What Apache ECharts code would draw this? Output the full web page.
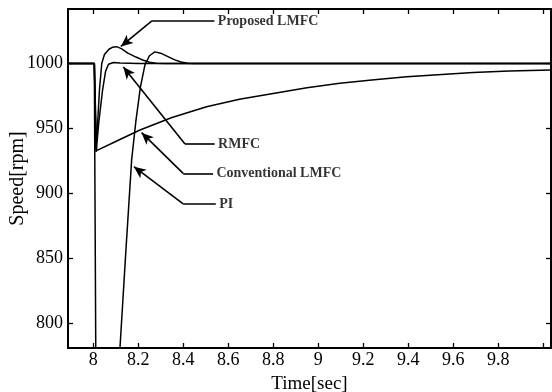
<!DOCTYPE html>
<html>
<head>
<meta charset="utf-8">
<script src="https://cdn.jsdelivr.net/npm/echarts@6/dist/echarts.min.js"></script>
<style>
html, body { margin: 0; padding: 0; background: #fff; }
#main { width: 552px; height: 392px; }
</style>
</head>
<body>
<div id="main"></div>
<script>
// axis ticks
var xTicks = [8, 8.2, 8.4, 8.6, 8.8, 9, 9.2, 9.4, 9.6, 9.8, 10];
var xTickLabels = ['8', '8.2', '8.4', '8.6', '8.8', '9', '9.2', '9.4', '9.6', '9.8', ''];
var yTicks = [800, 850, 900, 950, 1000];
var yTickLabels = ['800', '850', '900', '950', '1000'];

// Proposed LMFC
var proposedTime = [7.888, 8.005, 8.012, 8.02, 8.028, 8.038, 8.05, 8.07, 8.085, 8.104, 8.125, 8.154, 8.19, 8.22, 8.25, 8.28, 8.32, 10.035];
var proposedSpeed = [1000, 1000, 934, 955, 980, 1000, 1007, 1011, 1012.5, 1013, 1011.5, 1008, 1005, 1002.7, 1001, 1000.2, 1000, 1000];

// RMFC
var rmfcTime = [7.888, 8.005, 8.013, 8.025, 8.042, 8.055, 8.068, 8.09, 8.12, 8.2, 10.035];
var rmfcSpeed = [1000, 1000, 932, 955, 980, 994, 999.5, 1000.8, 1000.5, 1000, 1000];

// Conventional LMFC
var convTime = [7.888, 8.005, 8.015, 8.1, 8.208, 8.35, 8.504, 8.65, 8.8, 8.95, 9.096, 9.25, 9.393, 9.55, 9.689, 9.85, 10.035];
var convSpeed = [1000, 1000, 933, 940, 948.8, 958.5, 966.7, 972.5, 977, 981.3, 984.8, 987.6, 989.8, 991.6, 993.2, 994.3, 995];

// PI
var piTime = [7.888, 8.005, 8.012, 8.03, 8.06, 8.09, 8.119, 8.145, 8.171, 8.19, 8.21, 8.23, 8.25, 8.274, 8.3, 8.33, 8.36, 8.39, 8.42, 8.45, 10.035];
var piSpeed = [1000, 1000, 760, 700, 680, 710, 781, 855, 926, 956, 982, 999, 1006, 1009, 1008, 1005.5, 1003, 1001.2, 1000.2, 1000, 1000];

// annotations: label text, label anchor [t, v], elbow [t, v], arrow tip [t, v]
var noteNames = ['Proposed LMFC', 'RMFC', 'Conventional LMFC', 'PI'];
var noteLabelAt = [[8.554, 1032.8], [8.555, 938.1], [8.548, 915.5], [8.56, 891.9]];
var noteElbow = [[8.261, 1032.8], [8.408, 938.1], [8.40, 915.5], [8.40, 891.9]];
var noteTip = [[8.123, 1013.2], [8.134, 997.4], [8.215, 946.8], [8.181, 920.6]];

function zip(a, b) {
    return a.map(function(v, i) { return [v, b[i]]; });
}

function tickLabel(ticks, labels) {
    return function(value) {
        for (var i = 0; i < ticks.length; i++) {
            if (Math.abs(ticks[i] - value) < 1e-6) return labels[i];
        }
        return '';
    };
}

var font = 'Liberation Serif';

function curve(name, t, v) {
    return {
        name: name,
        type: 'line',
        data: zip(t, v),
        showSymbol: false,
        lineStyle: { color: '#000', width: 1.5 },
        animation: false
    };
}

var arrowLines = [];
noteNames.forEach(function(n, i) {
    var start = [noteLabelAt[i][0] - 0.015, noteLabelAt[i][1]];
    arrowLines.push([{ coord: start, symbol: 'none' }, { coord: noteElbow[i], symbol: 'none' }]);
    arrowLines.push([{ coord: noteElbow[i], symbol: 'none' }, { coord: noteTip[i], symbol: 'arrow' }]);
});

var myChart = echarts.init(document.getElementById('main'));
var option = {
    backgroundColor: '#fff',
    animation: false,
    grid: { left: 68, right: 1, top: 9, bottom: 44, containLabel: false, outerBoundsMode: 'none' },
    xAxis: [{
        type: 'value',
        min: 7.888,
        max: 10.035,
        name: 'Time[sec]',
        nameLocation: 'middle',
        nameGap: 27,
        nameMoveOverlap: false,
        nameTextStyle: { fontFamily: font, fontSize: 19, color: '#000' },
        axisLine: { show: true, lineStyle: { color: '#000', width: 2 } },
        axisTick: { inside: true, length: 5, customValues: xTicks, lineStyle: { color: '#000', width: 1.3 } },
        axisLabel: { customValues: xTicks, formatter: tickLabel(xTicks, xTickLabels), margin: 3, fontFamily: font, fontSize: 18, color: '#000' },
        splitLine: { show: false }
    }, {
        type: 'value',
        position: 'top',
        min: 7.888,
        max: 10.035,
        axisLine: { show: true, lineStyle: { color: '#000', width: 2 } },
        axisTick: { inside: true, length: 5, customValues: xTicks, lineStyle: { color: '#000', width: 1.3 } },
        axisLabel: { show: false },
        splitLine: { show: false }
    }],
    yAxis: [{
        type: 'value',
        min: 781,
        max: 1042,
        name: 'Speed[rpm]',
        nameLocation: 'middle',
        nameGap: 40,
        nameMoveOverlap: false,
        nameTextStyle: { fontFamily: font, fontSize: 20, color: '#000' },
        axisLine: { show: true, lineStyle: { color: '#000', width: 2 } },
        axisTick: { inside: true, length: 5, customValues: yTicks, lineStyle: { color: '#000', width: 1.3 } },
        axisLabel: { customValues: yTicks, formatter: tickLabel(yTicks, yTickLabels), margin: 5, fontFamily: font, fontSize: 18, color: '#000' },
        splitLine: { show: false }
    }, {
        type: 'value',
        position: 'right',
        min: 781,
        max: 1042,
        axisLine: { show: true, lineStyle: { color: '#000', width: 2 } },
        axisTick: { inside: true, length: 5, customValues: yTicks, lineStyle: { color: '#000', width: 1.3 } },
        axisLabel: { show: false },
        splitLine: { show: false }
    }],
    series: [
        curve('Conventional LMFC', convTime, convSpeed),
        curve('PI', piTime, piSpeed),
        curve('RMFC', rmfcTime, rmfcSpeed),
        curve('Proposed LMFC', proposedTime, proposedSpeed),
        {
            name: 'notes',
            type: 'scatter',
            symbolSize: 0,
            data: noteNames.map(function(n, i) { return { name: n, value: noteLabelAt[i] }; }),
            label: {
                show: true,
                position: 'right',
                distance: 0,
                formatter: '{b}',
                fontFamily: font,
                fontWeight: 'bold',
                fontSize: 14,
                color: '#000'
            },
            markLine: {
                silent: true,
                symbolSize: [8, 12],
                label: { show: false },
                lineStyle: { color: '#000', width: 1.6, type: 'solid' },
                data: arrowLines
            },
            animation: false
        }
    ]
};
myChart.setOption(option);
</script>
</body>
</html>
